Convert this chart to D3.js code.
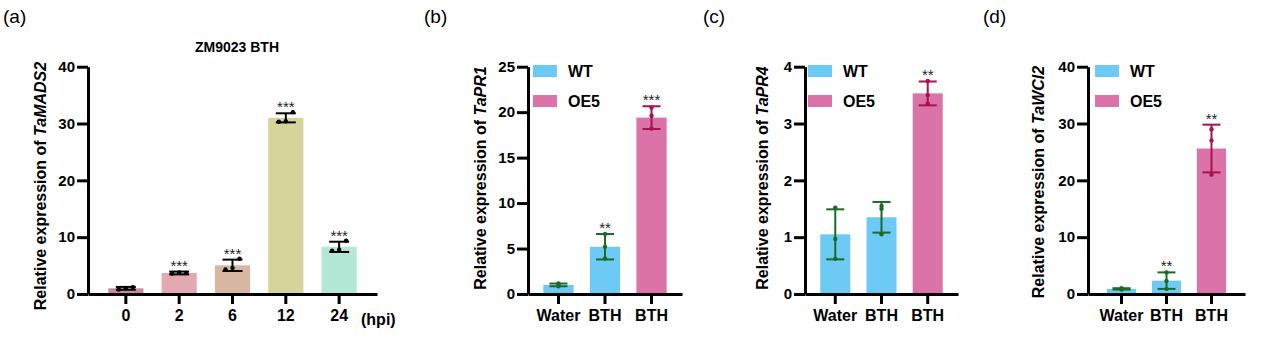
<!DOCTYPE html>
<html>
<head>
<meta charset="utf-8">
<script src="https://cdn.jsdelivr.net/npm/d3@7"></script>
<style>
  body { margin: 0; background: #fff; }
  svg { font-family: "Liberation Sans", Arial, sans-serif; }
</style>
</head>
<body>
<svg id="chart" width="1269" height="343"></svg>
<script>
// panel (a)
const hpiCats = ["0", "2", "6", "12", "24"];
const hpiMeans = [1.0, 3.7, 5.05, 31.0, 8.3];
const hpiSd = [0.25, 0.25, 1.0, 0.8, 0.9];
const hpiPoints = [[0.8, 1.0, 1.2], [3.6, 3.8, 3.7], [4.3, 4.6, 6.2], [30.3, 30.4, 32.0], [7.6, 7.8, 9.4]];
const hpiSig = ["", "***", "***", "***", "***"];
const hpiColors = ["#c98aa0", "#e3a9b1", "#d8b7a2", "#d6d49b", "#b2e8d5"];

// panels (b)-(d)
const groupCats = ["Water", "BTH", "BTH "];
const groupSeries = ["WT", "WT", "OE5"];

const pr1Means = [1.0, 5.2, 19.4];
const pr1Sd = [0.15, 1.4, 1.25];
const pr1Points = [[0.85, 1.0, 1.15], [3.9, 5.2, 6.6], [18.2, 19.6, 20.5]];
const pr1Sig = ["", "**", "***"];

const pr4Means = [1.05, 1.35, 3.53];
const pr4Sd = [0.44, 0.27, 0.21];
const pr4Points = [[0.62, 0.97, 1.52], [1.05, 1.5, 1.55], [3.35, 3.5, 3.75]];
const pr4Sig = ["", "", "**"];

const wci2Means = [0.9, 2.35, 25.6];
const wci2Sd = [0.12, 1.45, 4.2];
const wci2Points = [[0.8, 0.9, 1.0], [0.9, 2.3, 3.8], [21.0, 27.0, 29.0]];
const wci2Sig = ["", "**", "**"];

const seriesColor = { WT: "#6ccaf5", OE5: "#db72a8" };
const errColor = { WT: "#1a6b2a", OE5: "#a8124e" };

const svg = d3.select("#chart");
const yTop = 66.7, yBottom = 294;

function drawPanel(opt) {
  const g = svg.append("g");
  const y = d3.scaleLinear().domain([0, opt.yMax]).range([yBottom, yTop]);
  const x = d3.scaleBand()
    .domain(opt.cats)
    .range([opt.x0, opt.x1])
    .paddingInner(opt.pi)
    .paddingOuter(opt.po);

  // bars
  g.selectAll("rect.bar").data(opt.means).enter().append("rect")
    .attr("class", "bar")
    .attr("x", (d, i) => x(opt.cats[i]))
    .attr("width", x.bandwidth())
    .attr("y", d => y(d))
    .attr("height", d => yBottom - y(d))
    .attr("fill", (d, i) => opt.fill(i));

  // error bars
  const eb = g.selectAll("g.err").data(opt.means).enter().append("g")
    .attr("class", "err")
    .attr("stroke", (d, i) => opt.err(i))
    .attr("stroke-width", 2);
  const cx = i => x(opt.cats[i]) + x.bandwidth() / 2;
  eb.append("line")
    .attr("x1", (d, i) => cx(i)).attr("x2", (d, i) => cx(i))
    .attr("y1", (d, i) => y(d - opt.sd[i])).attr("y2", (d, i) => y(d + opt.sd[i]));
  eb.append("line")
    .attr("x1", (d, i) => cx(i) - opt.cap).attr("x2", (d, i) => cx(i) + opt.cap)
    .attr("y1", (d, i) => y(d + opt.sd[i])).attr("y2", (d, i) => y(d + opt.sd[i]));
  eb.append("line")
    .attr("x1", (d, i) => cx(i) - opt.cap).attr("x2", (d, i) => cx(i) + opt.cap)
    .attr("y1", (d, i) => y(d - opt.sd[i])).attr("y2", (d, i) => y(d - opt.sd[i]));

  // points
  opt.points.forEach((pts, i) => {
    g.selectAll(null).data(pts).enter().append("circle")
      .attr("cx", (d, j) => cx(i) + opt.spread[j])
      .attr("cy", d => y(d))
      .attr("r", 2.2)
      .attr("fill", opt.err(i));
  });

  // significance
  g.selectAll("text.sig").data(opt.means).enter().append("text")
    .attr("class", "sig")
    .attr("x", (d, i) => cx(i))
    .attr("y", (d, i) => y(d + opt.sd[i]) - 1)
    .attr("text-anchor", "middle")
    .attr("font-size", 15)
    .attr("fill", "#222")
    .text((d, i) => opt.sig[i]);

  // axes
  const yAxis = g.append("g")
    .attr("transform", `translate(${opt.x0},0)`)
    .call(d3.axisLeft(y).tickValues(opt.ticks).tickFormat(d3.format("d"))
      .tickSize(11).tickSizeOuter(0).tickPadding(2));
  const xAxis = g.append("g")
    .attr("transform", `translate(0,${yBottom})`)
    .call(d3.axisBottom(x).tickSize(10).tickSizeOuter(0).tickPadding(6));
  [yAxis, xAxis].forEach(a => {
    a.select(".domain").attr("stroke-width", 3).attr("stroke", "#000");
    a.selectAll(".tick line").attr("stroke-width", 3).attr("stroke", "#000");
    a.selectAll("text").attr("fill", "#000").attr("font-weight", "bold")
      .attr("font-family", "Liberation Sans, Arial, sans-serif");
  });
  yAxis.selectAll("text").attr("font-size", 15);
  xAxis.selectAll("text").attr("font-size", 16).text(d => d.trim());

  // y label
  const lab = g.append("text")
    .attr("transform", `translate(${opt.labX},${opt.labY}) rotate(-90)`)
    .attr("text-anchor", "middle")
    .attr("font-size", 16)
    .attr("font-weight", "bold")
    .attr("fill", "#000");
  lab.append("tspan").text("Relative expression of ");
  lab.append("tspan").attr("font-style", "italic").text(opt.gene);

  // panel letter
  g.append("text")
    .attr("x", opt.letterX).attr("y", 23)
    .attr("font-size", 19)
    .attr("fill", "#000")
    .text(opt.letter);

  return { g, x, y };
}

// (a)
const pa = drawPanel({
  cats: hpiCats, means: hpiMeans, sd: hpiSd, points: hpiPoints, sig: hpiSig,
  yMax: 40, ticks: [0, 10, 20, 30, 40],
  x0: 88, x1: 377, pi: 0.34, po: 0.38, cap: 10, spread: [-7, 0, 7],
  fill: i => hpiColors[i], err: i => "#000",
  gene: "TaMADS2", labX: 46, labY: 186, letter: "(a)", letterX: 3
});
pa.g.append("text")
  .attr("x", 237).attr("y", 52)
  .attr("text-anchor", "middle")
  .attr("font-size", 14).attr("font-weight", "bold")
  .text("ZM9023 BTH");
pa.g.append("text")
  .attr("x", 361).attr("y", 325)
  .attr("font-size", 16).attr("font-weight", "bold")
  .text("(hpi)");

// legend
function legend(g, lx, tx) {
  const items = ["WT", "OE5"];
  g.selectAll("rect.leg").data(items).enter().append("rect")
    .attr("class", "leg")
    .attr("x", lx).attr("y", (d, i) => 65 + i * 30)
    .attr("width", 24).attr("height", 12)
    .attr("fill", d => seriesColor[d]);
  g.selectAll("text.leg").data(items).enter().append("text")
    .attr("class", "leg")
    .attr("x", tx).attr("y", (d, i) => 77 + i * 30)
    .attr("font-size", 16).attr("font-weight", "bold")
    .text(d => d);
}

const common = {
  cats: groupCats, pi: 0.35, cap: 9, spread: [0, 0, 0],
  fill: i => seriesColor[groupSeries[i]], err: i => errColor[groupSeries[i]]
};

const pb = drawPanel(Object.assign({}, common, {
  means: pr1Means, sd: pr1Sd, points: pr1Points, sig: pr1Sig,
  yMax: 25, ticks: [0, 5, 10, 15, 20, 25],
  x0: 528, x1: 682, po: 0.33,
  gene: "TaPR1", labX: 486, labY: 178, letter: "(b)", letterX: 424
}));
legend(pb.g, 533, 568);

const pc = drawPanel(Object.assign({}, common, {
  means: pr4Means, sd: pr4Sd, points: pr4Points, sig: pr4Sig,
  yMax: 4, ticks: [0, 1, 2, 3, 4],
  x0: 805, x1: 958, po: 0.33,
  gene: "TaPR4", labX: 768, labY: 178, letter: "(c)", letterX: 703
}));
legend(pc.g, 808, 843);

const pd = drawPanel(Object.assign({}, common, {
  means: wci2Means, sd: wci2Sd, points: wci2Points, sig: wci2Sig,
  yMax: 40, ticks: [0, 10, 20, 30, 40],
  x0: 1088, x1: 1245, po: 0.42,
  gene: "TaWCI2", labX: 1044, labY: 182, letter: "(d)", letterX: 983
}));
legend(pd.g, 1095, 1130);
</script>
</body>
</html>
